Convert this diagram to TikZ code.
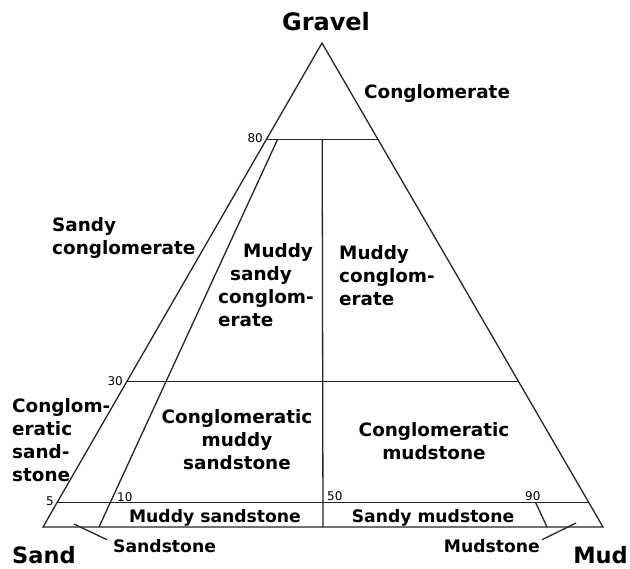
\documentclass[tikz,border=0pt]{standalone}
\usepackage{fontspec}
\setmainfont{DejaVu Sans}
\usetikzlibrary{calc}
\begin{document}
\begin{tikzpicture}[x=1pt,y=-1pt,
  edge/.style={line width=1.3pt, draw=black!85, line join=miter},
  leader/.style={line width=1.3pt, draw=black!85},
  corner/.style={font=\bfseries\fontsize{22.5}{27}\selectfont, inner sep=0pt},
  field/.style={font=\bfseries\fontsize{18.4}{23.2}\selectfont, inner sep=0pt, align=left},
  strip/.style={font=\bfseries\fontsize{17.2}{20}\selectfont, inner sep=0pt},
  tick/.style={font=\fontsize{12}{12}\selectfont, inner sep=0pt}]
\useasboundingbox (0,0) rectangle (630,569);
\fill[white] (0,0) rectangle (630,569);

% corners of the ternary triangle
\coordinate (G) at (322,43);
\coordinate (S) at (43,527);
\coordinate (M) at (603,527);

% gravel levels on the two sides
\coordinate (g80l) at ($(S)!0.8!(G)$);
\coordinate (g80r) at ($(M)!0.8!(G)$);
\coordinate (g30l) at ($(S)!0.3!(G)$);
\coordinate (g30r) at ($(M)!0.3!(G)$);
\coordinate (g5l)  at ($(S)!0.05!(G)$);
\coordinate (g5r)  at ($(M)!0.05!(G)$);

% mud:sand ratio lines
\coordinate (r10) at ($(S)!0.1!(M)$);
\coordinate (r10t) at ($(r10)!0.8!(G)$);
\coordinate (r50) at ($(S)!0.5!(M)$);
\coordinate (r50t) at ($(r50)!0.8!(G)$);
\coordinate (r90) at ($(S)!0.9!(M)$);
\coordinate (r90t) at ($(r90)!0.05!(G)$);

% outline and field boundaries
\draw[edge] (S) -- (G) -- (M) -- cycle;
\draw[edge] (g80l) -- (g80r);
\draw[edge] (g30l) -- (g30r);
\draw[edge] (g5l) -- (g5r);
\draw[edge] (r10) -- (r10t);
\draw[edge] (r50) -- (r50t);
\draw[edge] (r90) -- (r90t);

% end members
\node[corner, font=\bfseries\fontsize{24}{27}\selectfont, anchor=base] (gravel) at (326,31) {Gravel};
\node[corner, anchor=base west] (sand) at (12,563) {Sand};
\node[corner, anchor=base east] (mud) at (628,563) {Mud};

% scale values
\node[tick, anchor=east] (t80) at (263,138) {80};
\node[tick, anchor=east] (t30) at (123,381) {30};
\node[tick, anchor=east] (t5)  at (54,501) {5};
\node[tick, anchor=west] (t10) at (117,497) {10};
\node[tick, anchor=west] (t50) at (327,496) {50};
\node[tick, anchor=west] (t90) at (525,496) {90};

% rock names (multi-line names are placed by their last baseline)
\node[field, anchor=base west] (cong) at (364,99) {Conglomerate};
\node[field, anchor=base west] (sandycong) at (52,255) {Sandy\\conglomerate};
\node[field, anchor=base west] (mudsandycong) at (218,327)
  {\hspace*{25pt}Muddy\\\hspace*{12pt}sandy\\conglom-\\erate};
\node[field, anchor=base west] (muddycong) at (339,306) {Muddy\\conglom-\\erate};
\node[field, anchor=base west] (congsand) at (12,482) {Conglom-\\eratic\\sand-\\stone};
\node[field, anchor=base, align=center] (congmuddysand) at (237,470)
  {Conglomeratic\\muddy\\sandstone};
\node[field, anchor=base, align=center] (congmud) at (434,460)
  {Conglomeratic\\mudstone};
\node[strip, anchor=base] (muddysand) at (215,522) {Muddy sandstone};
\node[strip, anchor=base] (sandymud) at (433,522) {Sandy mudstone};
\node[strip, anchor=base west] (sandstone) at (113,552) {Sandstone};
\node[strip, anchor=base east] (mudstone) at (540,552) {Mudstone};

% leaders to the two narrow fields
\coordinate (sstip) at (74,524);
\coordinate (mstip) at (576,523);
\draw[leader] (sstip) -- ($(sandstone.north west)+(-6,1)$);
\draw[leader] (mstip) -- ($(mudstone.north east)+(2,1)$);
\end{tikzpicture}
\end{document}
